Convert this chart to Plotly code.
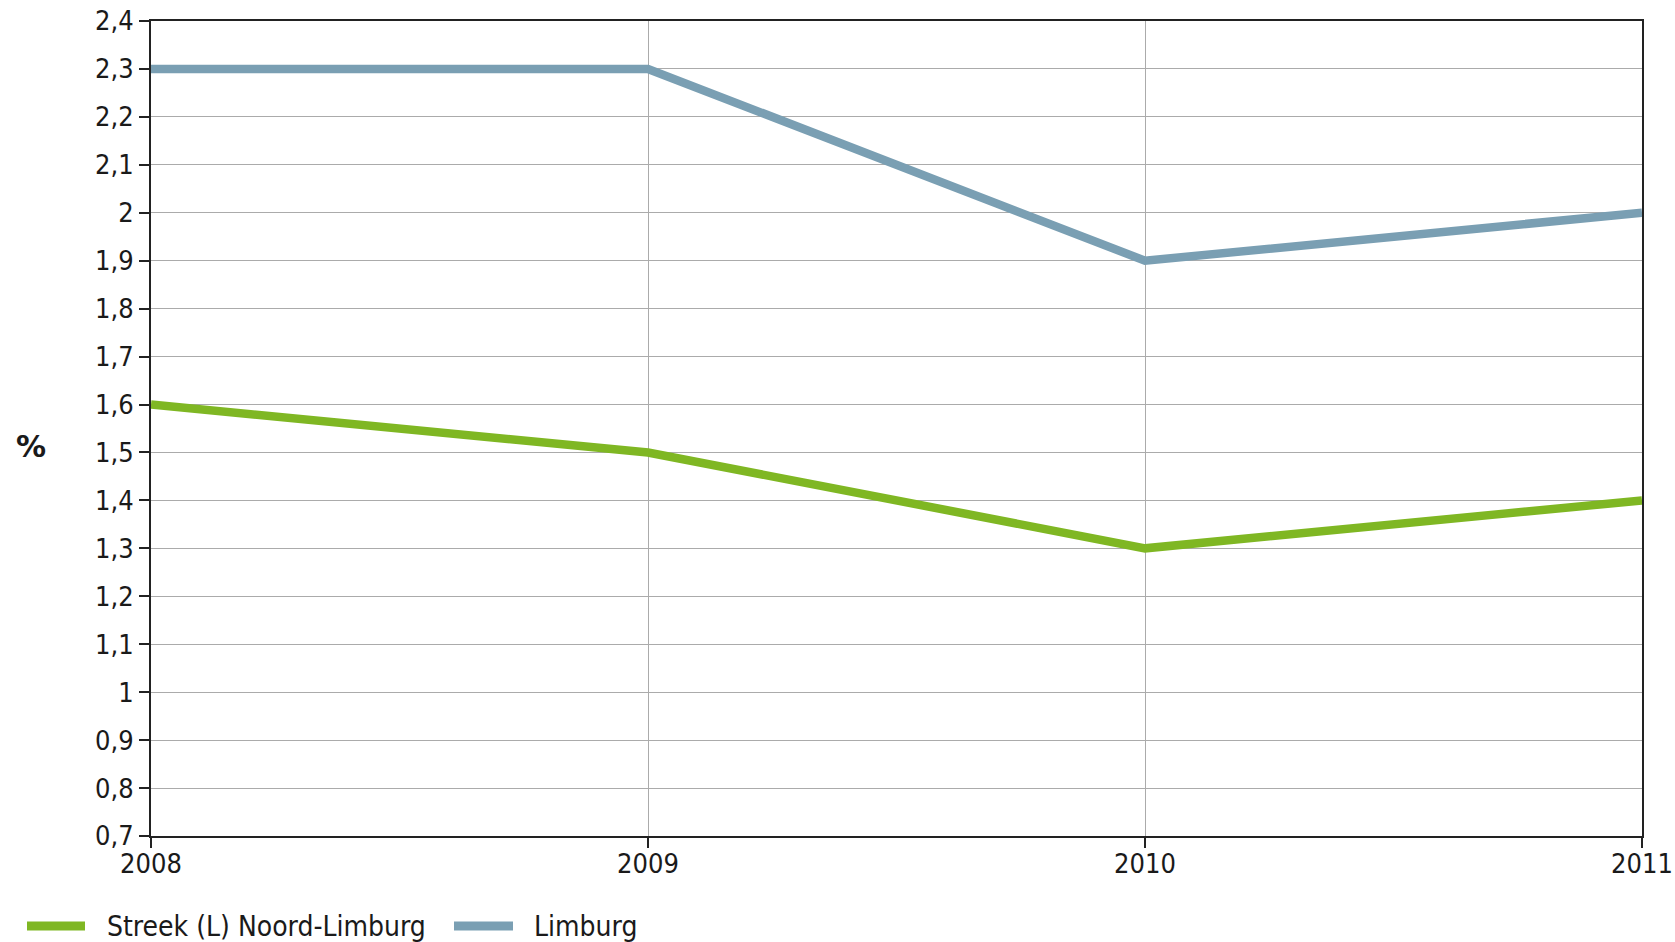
import plotly.graph_objects as go

years = [2008, 2009, 2010, 2011]
noord_limburg = [1.6, 1.5, 1.3, 1.4]
limburg = [2.3, 2.3, 1.9, 2.0]
series_names = ["Streek (L) Noord-Limburg", "Limburg"]
y_ticks = [0.7, 0.8, 0.9, 1.0, 1.1, 1.2, 1.3, 1.4, 1.5, 1.6, 1.7, 1.8, 1.9, 2.0, 2.1, 2.2, 2.3, 2.4]

GREEN = "#7fb723"
BLUE = "#7a9fb3"
FONT = "DejaVu Sans Condensed, DejaVu Sans"
TXT = "#1a1a1a"

W, H = 1675, 942
L, R, T, B = 151, 33, 21, 106
PW, PH = W - L - R, H - T - B


def px(x):
    return (x - L) / PW


def py(y):
    return (H - B - y) / PH


fig = go.Figure()
fig.add_trace(go.Scatter(x=years, y=noord_limburg, mode="lines", name=series_names[0],
                         line=dict(color=GREEN, width=8.5)))
fig.add_trace(go.Scatter(x=years, y=limburg, mode="lines", name=series_names[1],
                         line=dict(color=BLUE, width=8.5)))

fig.update_layout(
    width=W, height=H,
    margin=dict(l=L, r=R, t=T, b=B, autoexpand=False),
    paper_bgcolor="white", plot_bgcolor="white",
    separators=",.",
    font=dict(family=FONT, size=27, color=TXT),
    showlegend=False,
    hovermode=False,
)
fig.update_xaxes(range=[2008, 2011], tickmode="array", tickvals=years,
                 ticktext=[str(y) for y in years],
                 showgrid=True, gridcolor="#ababab", gridwidth=1,
                 showline=True, linecolor="#222222", linewidth=2, mirror=True,
                 ticks="outside", ticklen=10, tickcolor="#222222", tickwidth=2,
                 ticklabelstandoff=-7, ticklabeloverflow="allow",
                 automargin=False, zeroline=False)
fig.update_yaxes(range=[0.7, 2.4], tickmode="array", tickvals=y_ticks,
                 ticktext=[("%g" % v).replace(".", ",") for v in y_ticks],
                 showgrid=True, gridcolor="#ababab", gridwidth=1,
                 showline=True, linecolor="#222222", linewidth=2, mirror=True,
                 ticks="outside", ticklen=10, tickcolor="#222222", tickwidth=2,
                 ticklabeloverflow="allow", automargin=False, zeroline=False)

fig.add_annotation(text="<b>%</b>", xref="paper", yref="paper",
                   x=px(31), y=py(446), xanchor="center", yanchor="middle",
                   showarrow=False,
                   font=dict(size=30, family="DejaVu Sans", color=TXT))

# legend drawn below the plot
legend_items = [
    (series_names[0], GREEN, 27, 85, 105),
    (series_names[1], BLUE, 454, 513, 532),
]
for name, color, x0, x1, xt in legend_items:
    fig.add_shape(type="line", xref="paper", yref="paper",
                  x0=px(x0), x1=px(x1), y0=py(926), y1=py(926),
                  line=dict(color=color, width=9))
    fig.add_annotation(text=name, xref="paper", yref="paper",
                       x=px(xt), y=py(926), xanchor="left", yanchor="middle",
                       showarrow=False, font=dict(size=28, family=FONT, color=TXT))

fig.write_html("out.html",
               config={"displayModeBar": False, "staticPlot": True},
               post_script="document.body.style.margin='0';document.body.style.overflow='hidden';")
